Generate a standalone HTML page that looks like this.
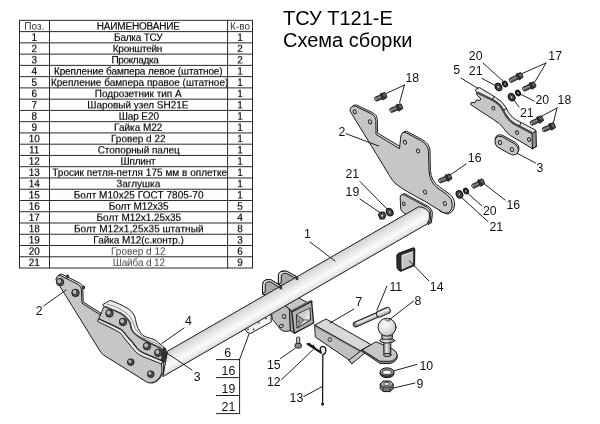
<!DOCTYPE html>
<html lang="ru">
<head>
<meta charset="utf-8">
<title>ТСУ Т121-Е — Схема сборки</title>
<style>
html,body{margin:0;padding:0;background:#fff;}
body{width:600px;height:424px;position:relative;overflow:hidden;font-family:"Liberation Sans",sans-serif;color:#000;}
#title{position:absolute;left:283px;top:7px;font-size:20px;line-height:22.2px;white-space:nowrap;margin:0;font-weight:normal;}
#parts{position:absolute;left:19px;top:19px;border-collapse:collapse;table-layout:fixed;width:233px;font-size:10px;transform:translateY(0.3px) scaleY(0.9382);transform-origin:0 0;}
#parts td,#parts th{border:1px solid transparent;padding:3px 0 0 0;height:8px;line-height:8px;text-align:center;font-weight:normal;white-space:nowrap;overflow:visible;}
#parts .t{position:relative;}
#parts td,#parts th{-webkit-text-stroke:0.16px #000;}
#parts tr.lt td:nth-child(2){color:#4a4a4a;-webkit-text-stroke:0;}
#parts th.l{color:#333;-webkit-text-stroke:0;}
#draw{position:absolute;left:0;top:0;will-change:transform;}
#title,#parts{will-change:transform;}
#draw text{font-family:"Liberation Sans",sans-serif;font-size:12.3px;fill:#111;}
</style>
</head>
<body>
<h1 id="title">ТСУ Т121-Е<br>Схема сборки</h1>
<table id="parts">
<colgroup><col style="width:29.5px"><col style="width:178.5px"><col style="width:25px"></colgroup>
<tr><th class="l"><span class="t">Поз.</span></th><th><span class="t" style="letter-spacing:-0.16px">НАИМЕНОВАНИЕ</span></th><th class="l"><span class="t">К-во</span></th></tr>
<tr><td><span class="t">1</span></td><td><span class="t" style="letter-spacing:-0.2px">Балка ТСУ</span></td><td><span class="t">1</span></td></tr>
<tr><td><span class="t">2</span></td><td><span class="t" style="letter-spacing:-0.25px;left:-0.8px">Кронштейн</span></td><td><span class="t">2</span></td></tr>
<tr><td><span class="t">3</span></td><td><span class="t" style="letter-spacing:-0.34px;left:-3.3px">Прокладка</span></td><td><span class="t">2</span></td></tr>
<tr><td><span class="t">4</span></td><td><span class="t" style="letter-spacing:-0.11px">Крепление бампера левое (штатное)</span></td><td><span class="t">1</span></td></tr>
<tr><td><span class="t">5</span></td><td><span class="t" style="left:1.4px">Крепление бампера правое (штатное)</span></td><td><span class="t">1</span></td></tr>
<tr><td><span class="t">6</span></td><td><span class="t">Подрозетник тип А</span></td><td><span class="t">1</span></td></tr>
<tr><td><span class="t">7</span></td><td><span class="t" style="letter-spacing:-0.04px;left:-0.4px">Шаровый узел SH21E</span></td><td><span class="t">1</span></td></tr>
<tr><td><span class="t">8</span></td><td><span class="t" style="letter-spacing:-0.09px;left:0.5px">Шар E20</span></td><td><span class="t">1</span></td></tr>
<tr><td><span class="t">9</span></td><td><span class="t">Гайка М22</span></td><td><span class="t">1</span></td></tr>
<tr><td><span class="t">10</span></td><td><span class="t">Гровер d 22</span></td><td><span class="t">1</span></td></tr>
<tr><td><span class="t">11</span></td><td><span class="t" style="letter-spacing:-0.06px;left:0.5px">Стопорный палец</span></td><td><span class="t">1</span></td></tr>
<tr><td><span class="t">12</span></td><td><span class="t" style="letter-spacing:-0.18px;left:-0.3px">Шплинт</span></td><td><span class="t">1</span></td></tr>
<tr><td><span class="t">13</span></td><td><span class="t" style="letter-spacing:0.03px;left:1.4px">Тросик петля-петля 175 мм в оплетке</span></td><td><span class="t">1</span></td></tr>
<tr><td><span class="t">14</span></td><td><span class="t">Заглушка</span></td><td><span class="t">1</span></td></tr>
<tr><td><span class="t">15</span></td><td><span class="t" style="letter-spacing:0.05px;left:0.4px">Болт М10х25 ГОСТ 7805-70</span></td><td><span class="t">1</span></td></tr>
<tr><td><span class="t">16</span></td><td><span class="t" style="letter-spacing:-0.07px;left:0.4px">Болт М12х35</span></td><td><span class="t">5</span></td></tr>
<tr><td><span class="t">17</span></td><td><span class="t" style="letter-spacing:-0.05px;left:0.5px">Болт М12х1.25х35</span></td><td><span class="t">4</span></td></tr>
<tr><td><span class="t">18</span></td><td><span class="t" style="letter-spacing:0.04px;left:0.5px">Болт М12х1,25х35 штатный</span></td><td><span class="t">8</span></td></tr>
<tr><td><span class="t">19</span></td><td><span class="t" style="letter-spacing:-0.05px;left:0.3px">Гайка М12(с.контр.)</span></td><td><span class="t">3</span></td></tr>
<tr class="lt"><td><span class="t">20</span></td><td><span class="t">Гровер d 12</span></td><td><span class="t">6</span></td></tr>
<tr class="lt"><td><span class="t">21</span></td><td><span class="t" style="letter-spacing:-0.14px;left:0.5px">Шайба d 12</span></td><td><span class="t">9</span></td></tr>
</table>
<svg id="draw" width="600" height="424" viewBox="0 0 600 424" role="img" aria-label="Схема сборки ТСУ Т121-Е">
<defs>
<linearGradient id="gTube" gradientUnits="userSpaceOnUse" x1="290" y1="280.7" x2="300.2" y2="298.4">
<stop offset="0" stop-color="#d0d0d0"/><stop offset="0.3" stop-color="#e6e6e6"/><stop offset="0.62" stop-color="#fbfbfb"/><stop offset="0.86" stop-color="#e6e6e6"/><stop offset="1" stop-color="#bcbcbc"/>
</linearGradient>
<linearGradient id="gBolt" x1="0" y1="0" x2="0" y2="1">
<stop offset="0" stop-color="#3a3a3a"/><stop offset="0.4" stop-color="#8e8e8e"/><stop offset="1" stop-color="#303030"/>
</linearGradient>
<linearGradient id="gBoltH" x1="0" y1="0" x2="0" y2="1">
<stop offset="0" stop-color="#2c2c2c"/><stop offset="0.4" stop-color="#707070"/><stop offset="1" stop-color="#262626"/>
</linearGradient>
<linearGradient id="gPin" x1="0" y1="0" x2="0" y2="1">
<stop offset="0" stop-color="#999"/><stop offset="0.35" stop-color="#f2f2f2"/><stop offset="1" stop-color="#909090"/>
</linearGradient>
<radialGradient id="gBall" cx="0.4" cy="0.35" r="0.7">
<stop offset="0" stop-color="#fcfcfc"/><stop offset="0.55" stop-color="#e2e2e2"/><stop offset="0.85" stop-color="#c4c4c4"/><stop offset="1" stop-color="#a0a0a0"/>
</radialGradient>
<linearGradient id="gNeck" x1="0" y1="0" x2="1" y2="0">
<stop offset="0" stop-color="#8a8a8a"/><stop offset="0.4" stop-color="#e8e8e8"/><stop offset="1" stop-color="#7a7a7a"/>
</linearGradient>
</defs>
<style>.o{stroke:#1c1c1c;stroke-width:1.0;stroke-linejoin:round;stroke-linecap:round}.ld{stroke:#151515;stroke-width:0.95;stroke-linecap:round}.f1{fill:#c6c6c6}.f2{fill:#a8a8a8}.f3{fill:#8c8c8c}.f0{fill:#dcdcdc}.n{fill:none}</style>
<path id="grid" d="M19,20.35H253 M19,31.61H253 M19,42.87H253 M19,54.12H253 M19,65.38H253 M19,76.64H253 M19,87.90H253 M19,99.16H253 M19,110.41H253 M19,121.67H253 M19,132.93H253 M19,144.19H253 M19,155.45H253 M19,166.70H253 M19,177.96H253 M19,189.22H253 M19,200.48H253 M19,211.74H253 M19,222.99H253 M19,234.25H253 M19,245.51H253 M19,256.77H253 M19,268.03H253 M19.5,19.9V268.48 M49.5,19.9V268.48 M227.6,19.9V268.48 M252.5,19.9V268.48" fill="none" stroke="#2a2a2a" stroke-width="1"/>
<g id="bracket-right">
<path class="o" fill="#dedede" d="M351.5,109 Q352,104.6 356.5,105 L372.5,112.6 Q377,114.8 377.3,119.5 L377.5,133 L400.3,146.6 L402,134.4 Q403.5,130.6 406.5,131.2 L421.8,139.4 Q429.6,143.6 430,150.5 L430.4,170.5 Q431,181 439.6,187 L449,193.6 Q454.8,198 454.6,205 Q453.6,213.4 447,214 L440,211 Z"/>
<path class="o f1" d="M350,110.5 Q350.3,105.6 355,106 L371,113.6 Q375.5,115.8 375.8,120.5 L376,134.4 L399.5,148.6 L400.8,135.8 Q402,131.6 405,132.2 L420.4,140.4 Q428,144.6 428.5,151.5 L429,171 Q429.5,182 438,188.4 L447,194.6 Q452.6,199 452.4,205.4 Q451.4,212.6 446,213.2 Q443,213 440,210.6 L425,201.4 L410,193.2 Q402.6,189.2 396,184 Q392,180.4 389.4,175.6 L383,165 Z"/>
<ellipse cx="354.7" cy="111.8" rx="1.5" ry="2.1" transform="rotate(-25 354.7 111.8)" fill="#d6d6d6" stroke="#1c1c1c" stroke-width="0.95"/>
<ellipse cx="370" cy="121.8" rx="1.5" ry="2.1" transform="rotate(-25 370 121.8)" fill="#d6d6d6" stroke="#1c1c1c" stroke-width="0.95"/>
<ellipse cx="405" cy="142.2" rx="1.5" ry="2.1" transform="rotate(-25 405 142.2)" fill="#d6d6d6" stroke="#1c1c1c" stroke-width="0.95"/>
<ellipse cx="418" cy="151" rx="1.5" ry="2.1" transform="rotate(-25 418 151)" fill="#d6d6d6" stroke="#1c1c1c" stroke-width="0.95"/>
<ellipse cx="425" cy="192" rx="1.5" ry="2.1" transform="rotate(-25 425 192)" fill="#d6d6d6" stroke="#1c1c1c" stroke-width="0.95"/>
<ellipse cx="444.8" cy="203.5" rx="1.5" ry="2.1" transform="rotate(-25 444.8 203.5)" fill="#d6d6d6" stroke="#1c1c1c" stroke-width="0.95"/>
</g>
<g transform="translate(374.4,99.7) rotate(-22.0)"><rect x="0.7" y="-2.15" width="7.9" height="4.3" rx="1.2" fill="url(#gBolt)" stroke="#1c1c1c" stroke-width="0.8"/><ellipse cx="1.6" cy="0" rx="0.9" ry="1.5" fill="#bdbdbd" stroke="#222" stroke-width="0.4"/><rect x="7.5" y="-3.6" width="2.2" height="7.2" rx="1.1" fill="#3c3c3c" stroke="#151515" stroke-width="0.7"/><rect x="9.2" y="-2.9" width="3.6" height="5.8" rx="1.3" fill="url(#gBoltH)" stroke="#151515" stroke-width="0.8"/></g>
<g transform="translate(389.5,111) rotate(-21.2)"><rect x="0.7" y="-2.15" width="8.6" height="4.3" rx="1.2" fill="url(#gBolt)" stroke="#1c1c1c" stroke-width="0.8"/><ellipse cx="1.6" cy="0" rx="0.9" ry="1.5" fill="#bdbdbd" stroke="#222" stroke-width="0.4"/><rect x="8.2" y="-3.6" width="2.2" height="7.2" rx="1.1" fill="#3c3c3c" stroke="#151515" stroke-width="0.7"/><rect x="9.9" y="-2.9" width="3.6" height="5.8" rx="1.3" fill="url(#gBoltH)" stroke="#151515" stroke-width="0.8"/></g>
<line x1="404.5" y1="85" x2="386.5" y2="93.3" class="ld"/>
<line x1="404.5" y1="85" x2="399.6" y2="102.5" class="ld"/>
<text x="405.5" y="81.8">18</text>
<text x="338.5" y="136.3">2</text>
<line x1="346" y1="133.7" x2="378.7" y2="146" class="ld"/>
<g id="mount-right">
<path class="o" fill="#8e8e8e" d="M532,133.4 L536,130.6 L536.4,146.4 L532.4,148.8 Z"/>
<path class="o f1" d="M476.6,92 L477.2,95.4 L481,98.8 L480,100.4 L476.4,100 L475.2,102.6 L471.2,102.4 L470.6,104.6 L493.5,119.5 Q500.5,123.5 503.5,128.2 Q506.5,133 510.5,135.6 L525,144.2 L532.4,148.8 L532,133.4 L519.5,125.6 Q513.5,123 510,119.5 Q505.5,114.5 503.5,108.5 Q500.5,102.5 493,98.6 L478.5,91 Z"/>
<path class="o" fill="#e8e8e8" d="M475.6,90 Q476.4,87.4 479.6,87.6 L495,97 Q502.4,101 505.6,107 Q508,113 512.4,117.2 Q516,120.4 521,122.4 L536,130.4 L532,133.6 L519,126.8 Q513,124.2 509.5,120.8 Q505,115.8 502.7,110.2 Q500,104.4 492.5,100.4 L477,92.8 Z"/>
<path d="M477.4,92.4 L492.7,99.9 Q500.2,103.9 502.9,109.7 Q505.2,115.3 509.7,120.3 Q513.2,123.7 519.2,126.3 L532,133" fill="none" stroke="#4a4a4a" stroke-width="2.2"/>
<path class="o n" d="M494,96.6 L492.4,99.4 M506.4,108.6 L503.4,110 M521,122.4 L519.6,126"/>
<path class="o n" d="M532.4,148.8 L536.4,146.4"/>
<ellipse cx="493.4" cy="108.3" rx="1.4" ry="1.8" transform="rotate(-25 493.4 108.3)" fill="#d6d6d6" stroke="#1c1c1c" stroke-width="0.95"/>
<ellipse cx="517" cy="132.6" rx="1.4" ry="1.8" transform="rotate(-25 517 132.6)" fill="#d6d6d6" stroke="#1c1c1c" stroke-width="0.95"/>
<ellipse cx="529" cy="139.6" rx="1.4" ry="1.8" transform="rotate(-25 529 139.6)" fill="#d6d6d6" stroke="#1c1c1c" stroke-width="0.95"/>
</g>
<text x="453.3" y="74">5</text>
<line x1="461" y1="78" x2="478" y2="88.5" class="ld"/>
<text x="468.8" y="60">20</text>
<line x1="483" y1="63" x2="504" y2="82" class="ld"/>
<text x="468.8" y="75">21</text>
<line x1="482" y1="78.5" x2="497" y2="86.4" class="ld"/>
<g transform="translate(505,84) rotate(-30)"><ellipse cx="0" cy="0" rx="2.3" ry="3.1" fill="#2c2c2c" stroke="#111" stroke-width="1"/><ellipse cx="0" cy="0" rx="0.92" ry="1.30" fill="#bbb" stroke="#111" stroke-width="0.5"/></g>
<g transform="translate(498.4,87) rotate(-30)"><ellipse cx="0.4" cy="0.3" rx="3.1" ry="3.9" fill="#161616"/><ellipse cx="0" cy="0" rx="3.1" ry="3.9" fill="#4e4e4e" stroke="#141414" stroke-width="1.2"/><ellipse cx="0" cy="0" rx="1.18" ry="1.56" fill="#d0d0d0" stroke="#141414" stroke-width="0.7"/></g>
<g transform="translate(509,81.2) rotate(-26.1)"><rect x="0.7" y="-2.15" width="9.8" height="4.3" rx="1.2" fill="url(#gBolt)" stroke="#1c1c1c" stroke-width="0.8"/><ellipse cx="1.6" cy="0" rx="0.9" ry="1.5" fill="#bdbdbd" stroke="#222" stroke-width="0.4"/><rect x="9.4" y="-3.6" width="2.2" height="7.2" rx="1.1" fill="#3c3c3c" stroke="#151515" stroke-width="0.7"/><rect x="11.1" y="-2.9" width="3.6" height="5.8" rx="1.3" fill="url(#gBoltH)" stroke="#151515" stroke-width="0.8"/></g>
<g transform="translate(522.3,89.8) rotate(-23.7)"><rect x="0.7" y="-2.15" width="9.2" height="4.3" rx="1.2" fill="url(#gBolt)" stroke="#1c1c1c" stroke-width="0.8"/><ellipse cx="1.6" cy="0" rx="0.9" ry="1.5" fill="#bdbdbd" stroke="#222" stroke-width="0.4"/><rect x="8.8" y="-3.6" width="2.2" height="7.2" rx="1.1" fill="#3c3c3c" stroke="#151515" stroke-width="0.7"/><rect x="10.5" y="-2.9" width="3.6" height="5.8" rx="1.3" fill="url(#gBoltH)" stroke="#151515" stroke-width="0.8"/></g>
<text x="548.3" y="60">17</text>
<line x1="546" y1="63" x2="522" y2="73.6" class="ld"/>
<line x1="546" y1="63" x2="535" y2="81.6" class="ld"/>
<g transform="translate(518,93) rotate(-30)"><ellipse cx="0" cy="0" rx="2.3" ry="3.1" fill="#2c2c2c" stroke="#111" stroke-width="1"/><ellipse cx="0" cy="0" rx="0.92" ry="1.30" fill="#bbb" stroke="#111" stroke-width="0.5"/></g>
<g transform="translate(511.6,97.2) rotate(-30)"><ellipse cx="0.4" cy="0.3" rx="3.1" ry="3.9" fill="#161616"/><ellipse cx="0" cy="0" rx="3.1" ry="3.9" fill="#4e4e4e" stroke="#141414" stroke-width="1.2"/><ellipse cx="0" cy="0" rx="1.18" ry="1.56" fill="#d0d0d0" stroke="#141414" stroke-width="0.7"/></g>
<text x="535.4" y="104.4">20</text>
<line x1="534" y1="101" x2="521" y2="94.4" class="ld"/>
<text x="520" y="117.4">21</text>
<line x1="519" y1="107" x2="513" y2="99" class="ld"/>
<g transform="translate(530,124) rotate(-24.8)"><rect x="0.7" y="-2.15" width="9.1" height="4.3" rx="1.2" fill="url(#gBolt)" stroke="#1c1c1c" stroke-width="0.8"/><ellipse cx="1.6" cy="0" rx="0.9" ry="1.5" fill="#bdbdbd" stroke="#222" stroke-width="0.4"/><rect x="8.7" y="-3.6" width="2.2" height="7.2" rx="1.1" fill="#3c3c3c" stroke="#151515" stroke-width="0.7"/><rect x="10.4" y="-2.9" width="3.6" height="5.8" rx="1.3" fill="url(#gBoltH)" stroke="#151515" stroke-width="0.8"/></g>
<g transform="translate(542,130.4) rotate(-22.6)"><rect x="0.7" y="-2.15" width="8.9" height="4.3" rx="1.2" fill="url(#gBolt)" stroke="#1c1c1c" stroke-width="0.8"/><ellipse cx="1.6" cy="0" rx="0.9" ry="1.5" fill="#bdbdbd" stroke="#222" stroke-width="0.4"/><rect x="8.5" y="-3.6" width="2.2" height="7.2" rx="1.1" fill="#3c3c3c" stroke="#151515" stroke-width="0.7"/><rect x="10.2" y="-2.9" width="3.6" height="5.8" rx="1.3" fill="url(#gBoltH)" stroke="#151515" stroke-width="0.8"/></g>
<text x="557.6" y="104.4">18</text>
<line x1="557" y1="108" x2="542" y2="116" class="ld"/>
<line x1="557" y1="108" x2="553.3" y2="123" class="ld"/>
<g id="gasket">
<path class="o" fill="#dedede" d="M496,137.2 Q498,134.6 502,136 L515.4,143.4 Q519.6,146.2 518.8,150.6 Q518,154.6 514,154.8 Q511.6,154.6 509.6,153.4 L497.4,146.6 Q494.6,144 495,140.4 Z" transform="translate(0.2,-0.9)"/>
<path class="o f1" d="M496,137.8 Q498,135.2 502,136.6 L515,144 Q519,146.8 518.4,151 Q517.6,155 513.6,155 Q511.2,154.8 509.2,153.6 L497.4,147 Q494.6,144.4 495,141 Z"/>
<ellipse cx="500" cy="142.6" rx="1.6" ry="2.0" transform="rotate(-25 500 142.6)" fill="#d6d6d6" stroke="#1c1c1c" stroke-width="0.95"/>
<ellipse cx="512" cy="149.6" rx="1.6" ry="2.0" transform="rotate(-25 512 149.6)" fill="#d6d6d6" stroke="#1c1c1c" stroke-width="0.95"/>
</g>
<text x="536.6" y="171.6">3</text>
<line x1="535.6" y1="163" x2="517.5" y2="153.5" class="ld"/>
<g transform="translate(438.4,181.6) rotate(-22.6)"><rect x="0.7" y="-2.15" width="8.9" height="4.3" rx="1.2" fill="url(#gBolt)" stroke="#1c1c1c" stroke-width="0.8"/><ellipse cx="1.6" cy="0" rx="0.9" ry="1.5" fill="#bdbdbd" stroke="#222" stroke-width="0.4"/><rect x="8.5" y="-3.6" width="2.2" height="7.2" rx="1.1" fill="#3c3c3c" stroke="#151515" stroke-width="0.7"/><rect x="10.2" y="-2.9" width="3.6" height="5.8" rx="1.3" fill="url(#gBoltH)" stroke="#151515" stroke-width="0.8"/></g>
<text x="467.8" y="161.6">16</text>
<line x1="466" y1="164" x2="450.5" y2="174.8" class="ld"/>
<g transform="translate(471.6,187) rotate(-25.8)"><rect x="0.7" y="-2.15" width="8.6" height="4.3" rx="1.2" fill="url(#gBolt)" stroke="#1c1c1c" stroke-width="0.8"/><ellipse cx="1.6" cy="0" rx="0.9" ry="1.5" fill="#bdbdbd" stroke="#222" stroke-width="0.4"/><rect x="8.2" y="-3.6" width="2.2" height="7.2" rx="1.1" fill="#3c3c3c" stroke="#151515" stroke-width="0.7"/><rect x="9.9" y="-2.9" width="3.6" height="5.8" rx="1.3" fill="url(#gBoltH)" stroke="#151515" stroke-width="0.8"/></g>
<text x="506.4" y="209.4">16</text>
<line x1="484.5" y1="184" x2="505" y2="200" class="ld"/>
<g transform="translate(466,191) rotate(-30)"><ellipse cx="0" cy="0" rx="2.3" ry="3.1" fill="#2c2c2c" stroke="#111" stroke-width="1"/><ellipse cx="0" cy="0" rx="0.92" ry="1.30" fill="#bbb" stroke="#111" stroke-width="0.5"/></g>
<g transform="translate(459.4,194.4) rotate(-30)"><ellipse cx="0.4" cy="0.3" rx="3.1" ry="3.9" fill="#161616"/><ellipse cx="0" cy="0" rx="3.1" ry="3.9" fill="#4e4e4e" stroke="#141414" stroke-width="1.2"/><ellipse cx="0" cy="0" rx="1.18" ry="1.56" fill="#d0d0d0" stroke="#141414" stroke-width="0.7"/></g>
<text x="483" y="215.4">20</text>
<line x1="468" y1="193.6" x2="482" y2="206" class="ld"/>
<text x="489.4" y="231.4">21</text>
<line x1="461" y1="197" x2="488" y2="221.6" class="ld"/>
<text x="345.4" y="178">21</text>
<line x1="360" y1="181.6" x2="388" y2="210" class="ld"/>
<text x="345.6" y="195.8">19</text>
<line x1="360" y1="199" x2="380.5" y2="213" class="ld"/>
<g transform="translate(389.6,212.2) rotate(-30)"><ellipse cx="0.4" cy="0.3" rx="3.1" ry="3.9" fill="#161616"/><ellipse cx="0" cy="0" rx="3.1" ry="3.9" fill="#4e4e4e" stroke="#141414" stroke-width="1.2"/><ellipse cx="0" cy="0" rx="1.18" ry="1.56" fill="#d0d0d0" stroke="#141414" stroke-width="0.7"/></g>
<g transform="translate(382,215.6)"><path d="M-3.6,-1 L-1.5,-3.6 L2.2,-3.2 L3.8,-0.2 L2,3.4 L-1.8,3.4 Z" fill="#5a5a5a" stroke="#111" stroke-width="1.1" stroke-linejoin="round"/><ellipse cx="0.2" cy="0" rx="1.6" ry="1.8" fill="#bdbdbd" stroke="#111" stroke-width="0.7"/></g>
<g id="beam">
<path class="o" fill="#dedede" d="M401.2,196.2 Q401.5,193 405,193.8 L428.2,206.4 Q432.6,209 432.4,214.5 L431.2,223 L428,224.6 L428.6,214 L405,202 Z"/>
<path class="o f1" d="M400.2,197.3 Q400.4,193.8 404,194.8 L427.4,207.4 Q431,209.6 430.8,214.5 L430,222.6 L405.4,213.6 Q401,212 400.7,208.5 Z"/>
<ellipse cx="403.8" cy="203.7" rx="1.3" ry="1.8" transform="rotate(-25 403.8 203.7)" fill="#d6d6d6" stroke="#1c1c1c" stroke-width="0.95"/>
<path class="o f2" d="M278.4,286 L278.4,275.5 Q278.6,271.6 282.5,271.2 L286.5,271.2 L297.8,277.2 L298,281 L286,285 Z"/>
<path class="o f0" d="M282.5,271.2 L286.5,271.2 L297.8,277.2 L297.9,279.4 L286.3,273.4 Q283,272.8 281.4,275 L281.2,283 L278.4,284 L278.4,275.5 Q278.6,271.6 282.5,271.2 Z"/>
<path class="o f2" d="M262.5,294 L262.5,284.5 Q262.8,280.4 266.5,279.6 L270.5,279.5 L281.3,286.2 L281.4,290 L270,295 Z"/>
<path class="o f0" d="M266.5,279.6 L270.5,279.5 L281.3,286.2 L281.4,288.6 L270.3,281.8 Q267,281.2 265.4,283.6 L265.2,292 L262.5,293 L262.5,284.5 Q262.8,280.4 266.5,279.6 Z"/>
<path class="o" fill="#bcbcbc" d="M271.8,312 L284,304.6 Q288.6,305.4 289.4,309.6 L290.4,330.6 Q287,332 283,331 Q279.6,329.4 277.6,325.6 L272.6,319.6 Z"/>
<path class="o" fill="#a2a2a2" d="M286,305.5 L293,311.5 L294,332.5 L290.5,331 L289.5,310 Z"/>
<path class="o f1" d="M285.5,305.5 L298,297.5 L308,303 L293,311.5 Z"/>
<ellipse cx="284.2" cy="316.5" rx="1.6" ry="2.1" transform="rotate(-15 284.2 316.5)" fill="#d6d6d6" stroke="#1c1c1c" stroke-width="0.95"/>
<ellipse cx="281.4" cy="326" rx="2.0" ry="1.5" transform="rotate(-30 281.4 326)" fill="#d6d6d6" stroke="#1c1c1c" stroke-width="0.95"/>
<path class="o" fill="#f4f4f4" d="M244.6,324 L271,309 L271.2,322 L250.4,333.6 Q246.4,333.2 245.4,329.6 Z"/>
<circle cx="248" cy="329.4" r="0.8" fill="#1c1c1c"/>
<circle cx="253.8" cy="329.4" r="0.8" fill="#1c1c1c"/>
<circle cx="259" cy="322.8" r="0.8" fill="#1c1c1c"/>
<circle cx="266" cy="318.6" r="0.8" fill="#1c1c1c"/>
<path class="o" fill="url(#gTube)" d="M163,376.2 L167.5,351.2 L418.6,206.8 Q426,207 429.3,213 Q430.6,218.5 427.4,223.6 Z"/>
<path d="M279.6,285.4 L281.6,286.6 L281.8,289.2 L279.8,288.4 Z" fill="#3a3a3a" stroke="#1c1c1c" stroke-width="0.7" stroke-linejoin="round"/>
<path d="M295.8,276.2 L297.8,277.4 L298,280 L296,279.2 Z" fill="#3a3a3a" stroke="#1c1c1c" stroke-width="0.7" stroke-linejoin="round"/>
</g>
<g id="receiver">
<path d="M290.6,311 L310.6,300.4 L312.4,301.4 L292.4,312.2 Z" fill="#d8d8d8" stroke="#222" stroke-width="0.7"/>
<path d="M291.8,311.8 L311.6,301.4 L313.6,323 L294.2,333.4 Z" fill="#b2b2b2" stroke="#1c1c1c" stroke-width="1.3" stroke-linejoin="round"/>
<path d="M296.5,314.6 L310,308 L310.5,320 L297,328.2 Z" fill="#e4e4e4" stroke="#1c1c1c" stroke-width="1" stroke-linejoin="round"/>
<path d="M297,315 L304,320 L297.4,327.4 Z" fill="#9a9a9a"/>
<path d="M297,314.8 L309.6,308.6 L304,320 Z" fill="#cdcdcd"/>
<path d="M297,315 L304,320 L310,320 M304,320 L297.4,327.6" fill="none" stroke="#222" stroke-width="0.7"/>
<circle cx="298.8" cy="321.6" r="0.8" fill="#222"/>
</g>
<text x="304" y="238">1</text>
<line x1="310" y1="242" x2="335" y2="261" class="ld"/>
<g id="bracket-left">
<path class="o" fill="#dedede" d="M57.5,277 Q58.4,273.6 62,274.2 L79.6,283 Q82.4,284.6 82.8,288 L83.2,302 L103,314.6 L150,346 L164,354 L163.5,372 Q160,381 152.5,383 L148,381.8 L102,353 Z"/>
<path class="o f1" d="M56,279.5 Q56.4,275 60.5,275.6 L78,284.4 Q81,286 81.4,289.4 L82,303.2 L102,316 L140,338 L161,352 L162,372 Q159.5,381.5 151,383 Q148,383 146,381.6 L103.5,355 Q101,353 99.6,350.4 Z"/>
</g>
<g id="mount-left">
<path class="o" fill="#c6c6c6" d="M104.5,306.5 C107.2,307.7 116.9,311.1 121,313.5 C125.1,315.9 127.2,318.4 129,321 C130.8,323.6 130.7,327.0 131.5,329 C132.3,331.0 132.6,331.6 134,333 C135.4,334.4 137.7,336.0 140,337.5 C142.3,339.0 144.7,340.2 148,342 C151.3,343.8 157.4,346.5 160,348 C162.6,349.5 162.9,350.5 163.5,351 L163,361 C161.3,360.3 156.8,358.7 153,357 C149.2,355.3 143.3,353.3 140,351 C136.7,348.7 135.3,345.7 133,343 C130.7,340.3 128.2,337.3 126,335 C123.8,332.7 124.5,331.7 120,329 C115.5,326.3 102.5,320.7 99,319 Z"/>
<path class="o" fill="#e8e8e8" d="M99,319 C102.5,320.7 115.5,326.3 120,329 C124.5,331.7 123.8,332.7 126,335 C128.2,337.3 130.7,340.3 133,343 C135.3,345.7 136.7,348.7 140,351 C143.3,353.3 149.2,355.3 153,357 C156.8,358.7 161.3,360.3 163,361 L161.5,364 C159.9,363.4 155.8,361.8 152,360.2 C148.2,358.6 142.0,356.5 138.5,354.2 C135.0,351.9 133.4,349.1 131,346.4 C128.6,343.7 126.1,340.2 124,337.8 C121.9,335.4 122.8,334.7 118.5,332 C114.2,329.3 101.4,323.3 98,321.6 Z"/>
<path class="o" fill="#ececec" d="M103,304.5 C103.8,304.0 106.5,302.1 108,301.5 C109.5,300.9 108.8,299.9 112,301 C115.2,302.1 123.3,305.7 127,308 C130.7,310.3 132.4,312.3 134,315 C135.6,317.7 135.7,321.5 136.5,324 C137.3,326.5 137.8,328.0 139,330 C140.2,332.0 141.5,334.4 144,336 C146.5,337.6 151.3,338.2 154,339.5 C156.7,340.8 158.1,342.5 160,344 C161.9,345.5 164.6,347.8 165.5,348.5 L163.5,351 C162.9,350.5 162.6,349.5 160,348 C157.4,346.5 151.3,343.8 148,342 C144.7,340.2 142.3,339.0 140,337.5 C137.7,336.0 135.4,334.4 134,333 C132.6,331.6 132.3,331.0 131.5,329 C130.7,327.0 130.8,323.6 129,321 C127.2,318.4 125.1,315.9 121,313.5 C116.9,311.1 107.2,307.7 104.5,306.5 Z"/>
<path d="M104.5,306.5 C107.2,307.7 116.9,311.1 121,313.5 C125.1,315.9 127.2,318.4 129,321 C130.8,323.6 130.7,327.0 131.5,329 C132.3,331.0 132.6,331.6 134,333 C135.4,334.4 137.7,336.0 140,337.5 C142.3,339.0 144.7,340.2 148,342 C151.3,343.8 157.4,346.5 160,348 C162.6,349.5 162.9,350.5 163.5,351" fill="none" stroke="#444" stroke-width="1.5"/>
<path d="M106.25,304.0 C108.0,304.5 112.9,305.5 116.5,307.25 C120.1,309.0 125.3,312.0 128.0,314.5 C130.7,317.0 131.5,319.7 132.75,322.0 C134.0,324.3 134.1,326.5 135.25,328.5 C136.4,330.5 137.7,332.0 139.5,333.75 C141.3,335.5 143.1,337.3 146.0,339.0 C148.9,340.7 154.4,342.3 157.0,343.75 C159.6,345.2 161.0,346.9 161.75,347.5" fill="none" stroke="#555" stroke-width="0.6"/>
<path d="M99,319 C102.5,320.7 115.5,326.3 120,329 C124.5,331.7 123.8,332.7 126,335 C128.2,337.3 130.7,340.3 133,343 C135.3,345.7 136.7,348.7 140,351 C143.3,353.3 149.2,355.3 153,357 C156.8,358.7 161.3,360.3 163,361" fill="none" stroke="#333" stroke-width="1.2"/>
<path d="M163.4,347.6 L166,349.4 L166.6,356 L164,362.4 L161.4,361 Z" fill="#333" stroke="#111" stroke-width="0.8"/>
</g>
<ellipse cx="67.6" cy="276.4" rx="1.3" ry="1.6" fill="#444" stroke="#111" stroke-width="0.6"/>
<ellipse cx="83.6" cy="287.4" rx="1.3" ry="1.6" fill="#444" stroke="#111" stroke-width="0.6"/>
<g transform="translate(59.6,281.6)"><ellipse cx="0.5" cy="0.5" rx="3.7" ry="3.7" fill="#585858" stroke="#151515" stroke-width="0.9"/><ellipse cx="-0.4" cy="-0.4" rx="2.5" ry="2.6999999999999997" fill="#b6b6b6" stroke="#151515" stroke-width="0.8"/></g>
<g transform="translate(75,292.4)"><ellipse cx="0.5" cy="0.5" rx="3.7" ry="3.7" fill="#585858" stroke="#151515" stroke-width="0.9"/><ellipse cx="-0.4" cy="-0.4" rx="2.5" ry="2.6999999999999997" fill="#b6b6b6" stroke="#151515" stroke-width="0.8"/></g>
<g transform="translate(109,313)"><ellipse cx="0.5" cy="0.5" rx="3.7" ry="3.7" fill="#585858" stroke="#151515" stroke-width="0.9"/><ellipse cx="-0.4" cy="-0.4" rx="2.5" ry="2.6999999999999997" fill="#b6b6b6" stroke="#151515" stroke-width="0.8"/></g>
<g transform="translate(122.5,321.5)"><ellipse cx="0.5" cy="0.5" rx="3.7" ry="3.7" fill="#585858" stroke="#151515" stroke-width="0.9"/><ellipse cx="-0.4" cy="-0.4" rx="2.5" ry="2.6999999999999997" fill="#b6b6b6" stroke="#151515" stroke-width="0.8"/></g>
<g transform="translate(146.5,345.8)"><ellipse cx="0.5" cy="0.5" rx="3.7" ry="3.7" fill="#585858" stroke="#151515" stroke-width="0.9"/><ellipse cx="-0.4" cy="-0.4" rx="2.5" ry="2.6999999999999997" fill="#b6b6b6" stroke="#151515" stroke-width="0.8"/></g>
<g transform="translate(157.8,352.4)"><ellipse cx="0.5" cy="0.5" rx="3.7" ry="3.7" fill="#585858" stroke="#151515" stroke-width="0.9"/><ellipse cx="-0.4" cy="-0.4" rx="2.5" ry="2.6999999999999997" fill="#b6b6b6" stroke="#151515" stroke-width="0.8"/></g>
<g transform="translate(130.3,361.7)"><ellipse cx="0.5" cy="0.5" rx="3.3" ry="3.3" fill="#585858" stroke="#151515" stroke-width="0.9"/><ellipse cx="-0.4" cy="-0.4" rx="2.1" ry="2.3" fill="#b6b6b6" stroke="#151515" stroke-width="0.8"/></g>
<g transform="translate(150.3,373.7)"><ellipse cx="0.5" cy="0.5" rx="3.3" ry="3.3" fill="#585858" stroke="#151515" stroke-width="0.9"/><ellipse cx="-0.4" cy="-0.4" rx="2.1" ry="2.3" fill="#b6b6b6" stroke="#151515" stroke-width="0.8"/></g>
<text x="35.8" y="315">2</text>
<line x1="43.6" y1="306" x2="66" y2="290" class="ld"/>
<text x="185" y="324.6">4</text>
<line x1="184" y1="328" x2="161.7" y2="343.5" class="ld"/>
<text x="193.8" y="381">3</text>
<line x1="192" y1="370" x2="166.3" y2="352.7" class="ld"/>
<path class="ld n" d="M239.6,359.2 L239.6,413.6 M216.3,359.6 H239.6 M216.3,377.6 H239.6 M216.3,395.5 H239.6 M216.3,413.6 H239.6" fill="none"/>
<line x1="239.6" y1="359.4" x2="249" y2="334" class="ld"/>
<text x="224.3" y="357.3">6</text>
<text x="221.6" y="374.8">16</text>
<text x="221.6" y="392.8">19</text>
<text x="221.6" y="411">21</text>
<g id="bolt15"><rect x="296.6" y="337" width="3.2" height="7" rx="0.8" fill="url(#gNeck)" stroke="#151515" stroke-width="0.8"/><rect x="295" y="343.4" width="6.4" height="4.6" rx="1.6" fill="#8a8a8a" stroke="#151515" stroke-width="0.9"/></g>
<text x="267" y="368.5">15</text>
<line x1="280.5" y1="358.5" x2="295" y2="348.4" class="ld"/>
<path d="M307.6,343.8 L321.4,352.8" stroke="#0c0c0c" stroke-width="2" fill="none" stroke-linecap="round"/>
<path d="M309.6,343.4 L312,346.4 M313,345.2 L315.4,348.8" stroke="#0c0c0c" stroke-width="1.2" fill="none" stroke-linecap="round"/>
<path d="M321.4,352.8 Q318.4,347.4 322.6,346.4 Q326.4,346.8 325.8,351.4 Q325,354.4 323,354.6" stroke="#0c0c0c" stroke-width="1.3" fill="#f2f2f2"/>
<path d="M322.8,354 L322.6,402.6" stroke="#0c0c0c" stroke-width="1.2" fill="none"/>
<ellipse cx="322.6" cy="404" rx="1.4" ry="1.8" fill="#0c0c0c"/>
<text x="267" y="385.8">12</text>
<line x1="281.7" y1="379.5" x2="313" y2="349.8" class="ld"/>
<text x="289.6" y="402">13</text>
<line x1="303.8" y1="396.5" x2="322.4" y2="386.5" class="ld"/>
<g id="ballmount">
<path class="o" fill="#c0c0c0" d="M315,325 L360.5,350.5 L352,363.6 L349,360 L315.6,337.2 Z"/>
<path d="M316,327.2 L360,352" fill="none" stroke="#777" stroke-width="0.7"/>
<path class="o" fill="#d8d8d8" d="M315,325 L326,319 L371,344.6 L360.5,350.5 Z"/>
<ellipse cx="329.8" cy="339.6" rx="1.7" ry="1.9" transform="rotate(0 329.8 339.6)" fill="#d6d6d6" stroke="#1c1c1c" stroke-width="0.95"/>
<path class="o f1" d="M349,360 L362,350 L366,352 L352,363.6 Z"/>
<path class="o f3" d="M362,351.4 L380,363.4 L390,363.6 Q396.6,361.6 397.4,356.8 L397.2,354.6 L380,361 L362.4,349.8 Z"/>
<path class="o f1" d="M362.4,349.8 L376,341.8 L392,348.6 Q397.6,351.8 397.2,355.4 Q396,360.4 389.6,361.4 L380,361.2 Z"/>
<rect class="o" x="383.8" y="342" width="7" height="12.6" rx="1.5" fill="url(#gNeck)"/>
<ellipse class="o" cx="387.3" cy="355" rx="3.8" ry="1.6" fill="#b0b0b0"/>
<ellipse class="o" cx="387.2" cy="340.6" rx="7.6" ry="2.4" fill="url(#gNeck)"/>
<rect class="o" x="381.8" y="333.6" width="10.6" height="5.6" rx="1.5" fill="url(#gNeck)"/>
<circle class="o" cx="387" cy="327.2" r="9" fill="url(#gBall)"/>
<ellipse cx="387.8" cy="319.8" rx="2.6" ry="1.1" fill="#e4e4e4" stroke="#333" stroke-width="0.6"/>
</g>
<text x="355.4" y="305.6">7</text>
<line x1="354" y1="309" x2="330" y2="323" class="ld"/>
<text x="414.4" y="305">8</text>
<line x1="413.6" y1="301" x2="389" y2="320" class="ld"/>
<g transform="translate(353.5,325.4) rotate(-23.7)"><rect class="o" x="0" y="-2.4" width="27" height="4.8" rx="2.2" fill="url(#gPin)"/><rect class="o" x="25.4" y="-3.1" width="14.4" height="6.2" rx="2.8" fill="url(#gPin)"/><ellipse cx="1.6" cy="0" rx="1.1" ry="1.8" fill="#bbb" stroke="#222" stroke-width="0.6"/></g>
<text x="389.4" y="291">11</text>
<line x1="387" y1="286" x2="377" y2="310" class="ld"/>
<g id="plug">
<path d="M396.8,256 Q396.8,254 398.6,253.2 L413,247.9 Q414.8,247.5 414.8,249.2 L414.6,265.4 L400.6,271.4 Q397.8,270.4 397,267.6 Z" fill="#2e2e2e" stroke="#151515" stroke-width="1" stroke-linejoin="round"/>
<path d="M401.2,254.8 L413.6,250.4 L413.6,264.8 L401.4,270.2 Z" fill="#c4c4c4" stroke="#1c1c1c" stroke-width="0.8" stroke-linejoin="round"/>
<path d="M402.2,269 L402.1,255.6 L412.8,251.8" fill="none" stroke="#f0f0f0" stroke-width="0.8"/>
</g>
<text x="429.8" y="290.6">14</text>
<line x1="429" y1="281" x2="409.4" y2="260.8" class="ld"/>
<g id="w10"><ellipse cx="387" cy="373.4" rx="7" ry="4.3" fill="#555" stroke="#151515" stroke-width="1"/><ellipse cx="387" cy="372" rx="7" ry="4.1" fill="#9a9a9a" stroke="#151515" stroke-width="1"/><ellipse cx="387" cy="372.3" rx="4.4" ry="2.3" fill="#f4f4f4" stroke="#151515" stroke-width="0.8"/></g>
<g id="n9"><path d="M380.2,384 L383,381.2 L390.4,381.2 L393.2,384 L393.2,388.6 L390.2,391.6 L383.2,391.6 L380.2,388.6 Z" fill="#777" stroke="#151515" stroke-width="1" stroke-linejoin="round"/><path d="M380.2,384 L383,381.2 L390.4,381.2 L393.2,384 L390.2,387 L383.2,387 Z" fill="#b0b0b0" stroke="#151515" stroke-width="0.8" stroke-linejoin="round"/><path d="M383.2,387 L383.2,391.4 M390.2,387 L390.2,391.4" stroke="#151515" stroke-width="0.7"/><ellipse cx="386.7" cy="384" rx="3" ry="1.6" fill="#e6e6e6" stroke="#151515" stroke-width="0.7"/></g>
<text x="419.4" y="369.6">10</text>
<line x1="417" y1="364.4" x2="393.4" y2="371" class="ld"/>
<text x="416.4" y="388">9</text>
<line x1="415" y1="383" x2="393.4" y2="388" class="ld"/>
</svg>
</body>
</html>
